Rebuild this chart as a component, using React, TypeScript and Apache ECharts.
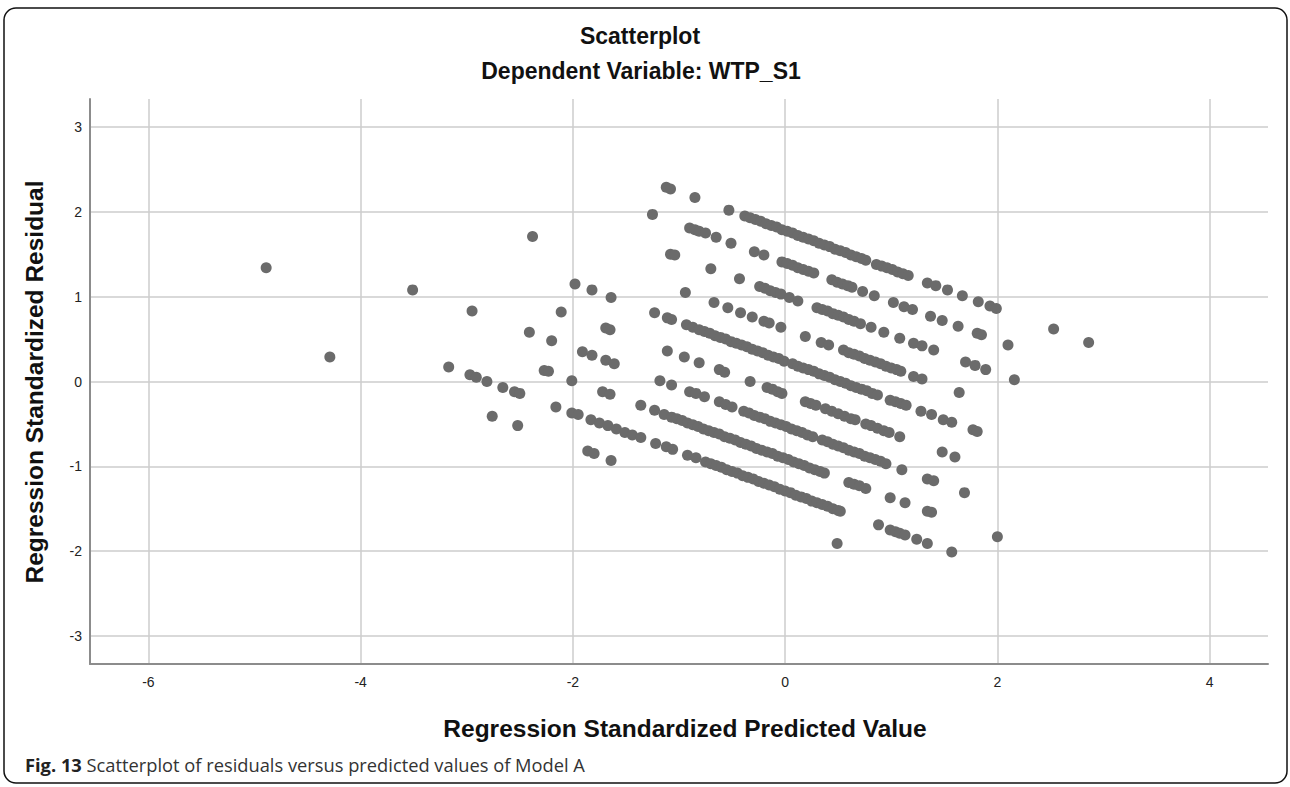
import React, { useEffect, useRef } from "react";
import * as echarts from "echarts";

// Points, grouped by the diagonal bands they lie on
const bandA: number[][] = [
  [-1.12, 2.29], [-1.08, 2.27], [-0.85, 2.17], [-0.53, 2.02], [-0.38, 1.95], [-0.33, 1.93], [-0.28, 1.91],
  [-0.23, 1.89], [-0.18, 1.86], [-0.13, 1.84], [-0.08, 1.82], [-0.03, 1.79], [0.02, 1.77], [0.07, 1.75],
  [0.12, 1.72], [0.17, 1.7], [0.22, 1.68], [0.27, 1.66], [0.32, 1.63], [0.37, 1.61], [0.42, 1.59],
  [0.47, 1.56], [0.52, 1.54], [0.57, 1.52], [0.62, 1.49], [0.67, 1.47], [0.72, 1.45], [0.76, 1.43],
  [0.86, 1.38], [0.91, 1.36], [0.96, 1.34], [1.01, 1.32], [1.06, 1.29], [1.11, 1.27], [1.16, 1.25],
  [1.34, 1.16], [1.42, 1.13], [1.53, 1.08], [1.67, 1.01], [1.82, 0.94], [1.93, 0.89], [1.99, 0.86],
  [2.53, 0.62], [2.86, 0.46],
];
const bandB: number[][] = [
  [-1.25, 1.97], [-0.9, 1.81], [-0.85, 1.79], [-0.81, 1.77], [-0.75, 1.75], [-0.65, 1.7], [-0.51, 1.63],
  [-0.29, 1.53], [-0.2, 1.49], [-0.03, 1.41], [0.02, 1.39], [0.07, 1.37], [0.12, 1.34], [0.17, 1.32],
  [0.22, 1.3], [0.27, 1.28], [0.44, 1.2], [0.49, 1.17], [0.54, 1.15], [0.59, 1.13], [0.63, 1.11],
  [0.73, 1.06], [0.84, 1.01], [1.02, 0.93], [1.12, 0.88], [1.2, 0.85], [1.37, 0.77], [1.48, 0.72],
  [1.63, 0.65], [1.81, 0.57], [1.85, 0.55], [2.1, 0.43],
];
const bandC: number[][] = [
  [-1.08, 1.5], [-1.04, 1.49], [-0.7, 1.33], [-0.43, 1.21], [-0.24, 1.12], [-0.19, 1.1], [-0.14, 1.07],
  [-0.09, 1.05], [-0.04, 1.03], [0.04, 0.99], [0.12, 0.95], [0.3, 0.87], [0.35, 0.85], [0.4, 0.83],
  [0.45, 0.8], [0.5, 0.78], [0.55, 0.76], [0.6, 0.73], [0.65, 0.71], [0.71, 0.68], [0.81, 0.64],
  [0.93, 0.58], [1.08, 0.51], [1.21, 0.45], [1.29, 0.42], [1.4, 0.37], [1.7, 0.23], [1.79, 0.19],
  [1.89, 0.14], [2.16, 0.02],
];
const bandD: number[][] = [
  [-2.38, 1.71], [-0.94, 1.05], [-0.67, 0.93], [-0.54, 0.87], [-0.42, 0.81], [-0.31, 0.76], [-0.2, 0.71],
  [-0.15, 0.69], [-0.04, 0.64], [0.19, 0.53], [0.34, 0.46], [0.41, 0.43], [0.55, 0.37], [0.6, 0.34],
  [0.65, 0.32], [0.7, 0.3], [0.75, 0.27], [0.8, 0.25], [0.85, 0.23], [0.9, 0.21], [0.95, 0.18],
  [1.0, 0.16], [1.05, 0.14], [1.09, 0.12], [1.21, 0.06], [1.29, 0.03], [1.64, -0.13],
];
const bandE: number[][] = [
  [-1.98, 1.15], [-1.82, 1.08], [-1.64, 0.99], [-1.23, 0.81], [-1.11, 0.75], [-1.07, 0.73], [-0.93, 0.67],
  [-0.87, 0.64], [-0.81, 0.61], [-0.76, 0.59], [-0.71, 0.57], [-0.66, 0.54], [-0.61, 0.52], [-0.56, 0.5],
  [-0.51, 0.47], [-0.46, 0.45], [-0.41, 0.43], [-0.36, 0.41], [-0.31, 0.38], [-0.26, 0.36], [-0.21, 0.34],
  [-0.16, 0.31], [-0.11, 0.29], [-0.06, 0.27], [-0.01, 0.24], [0.07, 0.21], [0.12, 0.18], [0.17, 0.16],
  [0.22, 0.14], [0.27, 0.12], [0.32, 0.09], [0.37, 0.07], [0.42, 0.05], [0.47, 0.02], [0.52, 0.0],
  [0.57, -0.02], [0.62, -0.05], [0.67, -0.07], [0.72, -0.09], [0.77, -0.11], [0.82, -0.14], [0.87, -0.16],
  [0.99, -0.22], [1.04, -0.24], [1.09, -0.26], [1.14, -0.28], [1.28, -0.35], [1.38, -0.39], [1.49, -0.45],
  [1.57, -0.48], [1.77, -0.57], [1.81, -0.59],
];
const bandF: number[][] = [
  [-2.11, 0.82], [-1.69, 0.63], [-1.65, 0.61], [-1.11, 0.36], [-0.95, 0.29], [-0.81, 0.22], [-0.62, 0.14],
  [-0.57, 0.11], [-0.33, 0.0], [-0.17, -0.07], [-0.12, -0.09], [-0.07, -0.12], [-0.03, -0.14], [0.19, -0.24],
  [0.24, -0.26], [0.29, -0.28], [0.38, -0.32], [0.44, -0.35], [0.5, -0.38], [0.56, -0.41], [0.62, -0.44],
  [0.66, -0.45], [0.76, -0.5], [0.81, -0.52], [0.87, -0.55], [0.93, -0.58], [0.98, -0.6], [1.08, -0.65],
  [1.48, -0.83], [1.6, -0.89],
];
const bandG: number[][] = [
  [-3.51, 1.08], [-2.95, 0.83], [-2.41, 0.58], [-2.2, 0.48], [-1.91, 0.35], [-1.82, 0.31], [-1.69, 0.25],
  [-1.61, 0.21], [-1.18, 0.01], [-1.07, -0.04], [-0.9, -0.12], [-0.84, -0.14], [-0.76, -0.18], [-0.62, -0.24],
  [-0.56, -0.27], [-0.5, -0.3], [-0.39, -0.35], [-0.34, -0.37], [-0.29, -0.4], [-0.24, -0.42], [-0.19, -0.44],
  [-0.14, -0.47], [-0.09, -0.49], [-0.04, -0.51], [0.01, -0.53], [0.06, -0.56], [0.11, -0.58], [0.16, -0.6],
  [0.21, -0.63], [0.26, -0.65], [0.35, -0.69], [0.4, -0.71], [0.45, -0.74], [0.5, -0.76], [0.55, -0.78],
  [0.6, -0.81], [0.65, -0.83], [0.7, -0.85], [0.75, -0.88], [0.8, -0.9], [0.85, -0.92], [0.9, -0.94],
  [0.95, -0.97], [1.1, -1.04], [1.34, -1.15], [1.4, -1.17], [1.69, -1.31],
];
const bandH: number[][] = [
  [-4.89, 1.34], [-2.27, 0.13], [-2.23, 0.12], [-2.01, 0.01], [-1.72, -0.12], [-1.65, -0.15], [-1.36, -0.28],
  [-1.23, -0.34], [-1.14, -0.39], [-1.07, -0.42], [-1.02, -0.44], [-0.97, -0.46], [-0.92, -0.49], [-0.87, -0.51],
  [-0.82, -0.53], [-0.77, -0.56], [-0.72, -0.58], [-0.67, -0.6], [-0.62, -0.62], [-0.57, -0.65], [-0.52, -0.67],
  [-0.47, -0.69], [-0.42, -0.72], [-0.37, -0.74], [-0.32, -0.76], [-0.27, -0.79], [-0.22, -0.81], [-0.17, -0.83],
  [-0.12, -0.85], [-0.07, -0.88], [-0.02, -0.9], [0.03, -0.92], [0.08, -0.95], [0.13, -0.97], [0.18, -0.99],
  [0.23, -1.02], [0.28, -1.04], [0.33, -1.06], [0.37, -1.08], [0.6, -1.19], [0.65, -1.21], [0.7, -1.23],
  [0.76, -1.26], [0.99, -1.37], [1.13, -1.43], [1.34, -1.53], [1.38, -1.54], [2.0, -1.83],
];
const bandI: number[][] = [
  [-3.17, 0.17], [-2.97, 0.08], [-2.91, 0.05], [-2.81, 0.0], [-2.66, -0.07], [-2.55, -0.12], [-2.5, -0.14],
  [-2.16, -0.3], [-2.01, -0.37], [-1.95, -0.39], [-1.83, -0.45], [-1.75, -0.49], [-1.67, -0.52], [-1.59, -0.56],
  [-1.51, -0.6], [-1.44, -0.63], [-1.36, -0.66], [-1.22, -0.73], [-1.12, -0.77], [-1.06, -0.8], [-0.92, -0.87],
  [-0.84, -0.9], [-0.75, -0.95], [-0.7, -0.97], [-0.65, -0.99], [-0.6, -1.01], [-0.55, -1.04], [-0.5, -1.06],
  [-0.45, -1.08], [-0.4, -1.11], [-0.35, -1.13], [-0.3, -1.15], [-0.25, -1.18], [-0.2, -1.2], [-0.15, -1.22],
  [-0.1, -1.24], [-0.05, -1.27], [0.0, -1.29], [0.05, -1.31], [0.1, -1.34], [0.15, -1.36], [0.2, -1.38],
  [0.25, -1.41], [0.3, -1.43], [0.35, -1.45], [0.4, -1.47], [0.45, -1.5], [0.5, -1.52], [0.52, -1.53],
  [0.88, -1.69], [0.99, -1.75], [1.04, -1.77], [1.08, -1.79], [1.13, -1.81], [1.24, -1.86], [1.34, -1.91],
  [1.57, -2.01],
];
const bandJ: number[][] = [
  [-4.29, 0.29], [-2.76, -0.41], [-2.52, -0.52], [-1.86, -0.82], [-1.8, -0.85], [-1.64, -0.93], [0.49, -1.91],
];

const xTickLabels = ["-6", "-4", "-2", "0", "2", "4"];
const yTickLabels = ["-3", "-2", "-1", "0", "1", "2", "3"];

const titleMain = "Scatterplot";
const titleSub = "Dependent Variable: WTP_S1";
const xTitle = "Regression Standardized Predicted Value";
const yTitle = "Regression Standardized Residual";
const captionBold = "Fig. 13";
const captionText = " Scatterplot of residuals versus predicted values of Model A";

const W = 1290;
const H = 787;

export default function App() {
  const ref = useRef<HTMLDivElement>(null);

  useEffect(() => {
    if (!ref.current) return;
    const chart = echarts.init(ref.current, undefined, { renderer: "svg", width: W, height: H });
    const allPoints = [
      ...bandA, ...bandB, ...bandC, ...bandD, ...bandE,
      ...bandF, ...bandG, ...bandH, ...bandI, ...bandJ,
    ];
    const font = "'Liberation Sans', Arial, sans-serif";
    chart.setOption({
      animation: false,
      backgroundColor: "#ffffff",
      grid: { left: 90, right: 22, top: 99, bottom: 123, containLabel: false },
      xAxis: {
        type: "value",
        min: -6.55,
        max: 4.55,
        minInterval: 2,
        maxInterval: 2,
        axisLine: { show: true, onZero: false, lineStyle: { color: "#8c8c8c", width: 2 } },
        axisTick: { show: false },
        axisLabel: {
          show: true,
          showMinLabel: false,
          showMaxLabel: false,
          color: "#222",
          fontFamily: font,
          fontSize: 14,
          margin: 11,
          formatter: (v: number) => {
            const s = String(Math.round(v));
            return xTickLabels.indexOf(s) >= 0 ? s : "";
          },
        },
        splitLine: {
          show: true,
          showMinLine: false,
          showMaxLine: false,
          lineStyle: { color: "#cccccc", width: 1.5 },
        },
      },
      yAxis: {
        type: "value",
        min: -3.33,
        max: 3.33,
        minInterval: 1,
        maxInterval: 1,
        axisLine: { show: true, onZero: false, lineStyle: { color: "#8c8c8c", width: 2 } },
        axisTick: { show: false },
        axisLabel: {
          show: true,
          showMinLabel: false,
          showMaxLabel: false,
          color: "#222",
          fontFamily: font,
          fontSize: 14,
          margin: 8,
          formatter: (v: number) => {
            const s = String(Math.round(v));
            return yTickLabels.indexOf(s) >= 0 ? s : "";
          },
        },
        splitLine: {
          show: true,
          showMinLine: false,
          showMaxLine: false,
          lineStyle: { color: "#cccccc", width: 1.5 },
        },
      },
      series: [
        {
          type: "scatter",
          data: allPoints,
          symbol: "circle",
          symbolSize: 11,
          itemStyle: { color: "#6b6b6b", opacity: 1 },
          silent: true,
        },
      ],
      graphic: [
        {
          type: "rect",
          shape: { x: 4, y: 8, width: 1283, height: 775, r: 12 },
          style: { fill: "none", stroke: "#111", lineWidth: 1.5 },
          silent: true,
          z: 10,
        },
        {
          type: "text",
          x: 640,
          y: 36,
          style: {
            text: titleMain,
            fontFamily: font,
            fontWeight: "bold",
            fontSize: 23,
            fill: "#111",
            align: "center",
            verticalAlign: "middle",
          },
        },
        {
          type: "text",
          x: 641,
          y: 71,
          style: {
            text: titleSub,
            fontFamily: font,
            fontWeight: "bold",
            fontSize: 23,
            fill: "#111",
            align: "center",
            verticalAlign: "middle",
          },
        },
        {
          type: "text",
          x: 685,
          y: 728,
          style: {
            text: xTitle,
            fontFamily: font,
            fontWeight: "bold",
            fontSize: 24.5,
            fill: "#111",
            align: "center",
            verticalAlign: "middle",
          },
        },
        {
          type: "text",
          x: 34,
          y: 382,
          rotation: Math.PI / 2,
          style: {
            text: yTitle,
            fontFamily: font,
            fontWeight: "bold",
            fontSize: 24.5,
            fill: "#111",
            align: "center",
            verticalAlign: "middle",
          },
        },
        {
          type: "text",
          x: 25,
          y: 764,
          style: {
            text: "{b|" + captionBold + "}{r|" + captionText + "}",
            verticalAlign: "middle",
            align: "left",
            rich: {
              b: { fontFamily: "'Open Sans', sans-serif", fontWeight: "bold", fontSize: 18.3, fill: "#222" },
              r: { fontFamily: "'Open Sans', sans-serif", fontSize: 18.3, fill: "#333" },
            },
          },
        },
      ],
    });
    return () => chart.dispose();
  }, []);

  return (
    <div
      ref={ref}
      style={{ position: "absolute", left: 0, top: 0, width: W, height: H, background: "#fff" }}
    />
  );
}
